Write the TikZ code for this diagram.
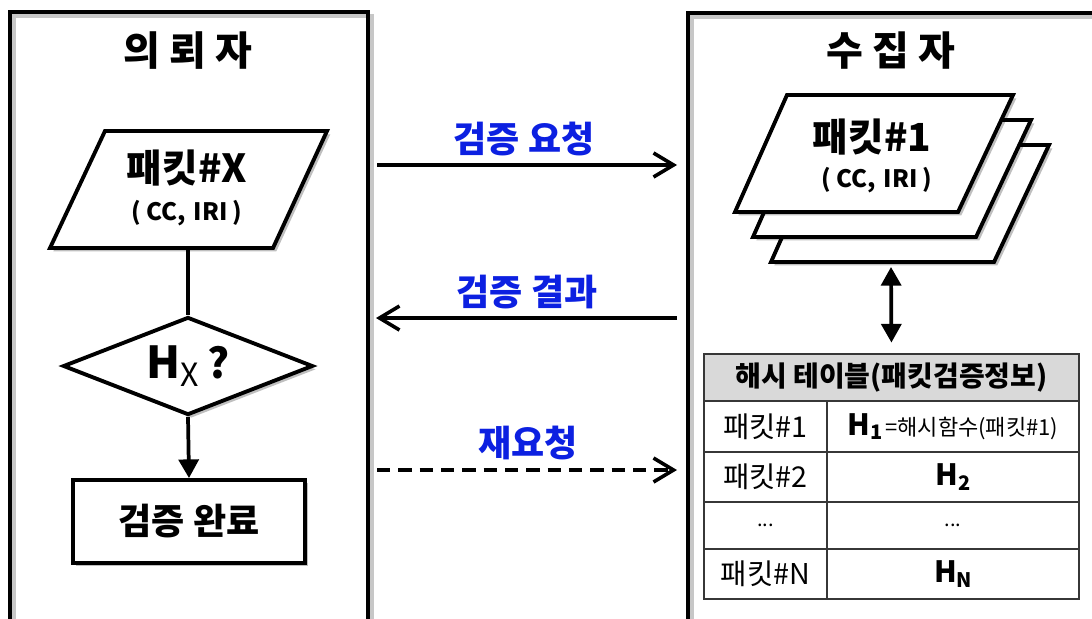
\documentclass[tikz,border=0pt]{standalone}
\usepackage{fontspec}
\setmainfont{Noto Sans CJK KR}
\usetikzlibrary{arrows.meta,shapes.geometric,shadows}
\definecolor{lblue}{RGB}{12,32,225}
\definecolor{hdrgray}{RGB}{217,217,217}
\definecolor{tline}{RGB}{55,55,55}
\newcommand\fsz[1]{\fontsize{#1}{#1}\selectfont}
\begin{document}
\begin{tikzpicture}[x=0.75pt,y=-0.75pt,
  panel/.style={draw=black, line width=3.4pt, rectangle, inner sep=0pt,
    preaction={draw=black!22, line width=3pt, transform canvas={xshift=2.8pt,yshift=-2.8pt}}},
  ttl/.style={font=\bfseries\fsz{30}, inner sep=0pt},
  shade/.style={drop shadow={shadow xshift=2.5pt, shadow yshift=-2.5pt, opacity=0.25, fill=black}},
  para/.style={draw=black, fill=white, line width=2.9pt, line join=miter, shade},
  flowbox/.style={draw=black, fill=white, line width=2.9pt, rectangle, inner sep=0pt, shade},
  decide/.style={draw=black, fill=white, line width=2.9pt, diamond, shape aspect=2.55, inner sep=0pt, shade},
  conn/.style={line width=2.8pt},
  msg/.style={line width=2.7pt, -{Straight Barb[length=15pt,width=18pt,line width=2.7pt]}},
  msglbl/.style={text=lblue, font=\bfseries\fsz{27}, inner sep=0pt},
  cell/.style={draw=tline, line width=1.2pt, rectangle, inner sep=0pt, font=\fsz{21.5}},
  hdr/.style={cell, fill=hdrgray, font=\bfseries\fsz{21}}
]
\clip (0,0) rectangle (1092,618);
\fill[white] (0,0) rectangle (1092,618);

% panels
\node[panel, minimum width=268.5pt, minimum height=516pt] (lp) at (189,356) {};
\node[panel, minimum width=324pt, minimum height=515.25pt] (rp) at (904,356.5) {};
\node[ttl] (lt) at (188,51) {의 뢰 자};
\node[ttl] (rt) at (891,51) {수 집 자};

% left flow
\path[para] (105,131) -- (327,131) -- (273,248) -- (50,248) -- cycle;
\node[font=\bfseries\fsz{29}, inner sep=0pt] (px) at (187,168) {패킷\#X};
\node[font=\bfseries\fsz{18}, inner sep=0pt] (pxs) at (187,213) {(\hspace{4pt}CC,\hspace{6pt}IRI\hspace{4pt})};
\coordinate (pxb) at (188,248);
\node[decide, minimum width=187.5pt, minimum height=73.5pt] (hx) at (188,366)
  {{\bfseries\fsz{33}H}\raisebox{-6pt}{\fsz{24}X}\hspace{6pt}{\bfseries\fsz{31}?}};
\node[flowbox, minimum width=174pt, minimum height=62.25pt, font=\bfseries\fsz{27}] (done) at (189,521.5) {검증 완료};
\draw[conn] (pxb) -- (hx.north);
\draw[conn, -{Triangle[length=14pt,width=15pt]}] (hx.south) -- (done.north);

% messages
\coordinate (a1s) at (377,165); \coordinate (a1e) at (677,165);
\coordinate (a2s) at (677,318); \coordinate (a2e) at (376,318);
\coordinate (a3s) at (377,470); \coordinate (a3e) at (677,470);
\node[msglbl] (l1) at (524,139) {검증 요청};
\node[msglbl] (l2) at (527,292) {검증 결과};
\node[msglbl] (l3) at (528,443) {재요청};
\draw[msg] (a1s) -- (a1e);
\draw[msg] (a2s) -- (a2e);
\draw[msg, dash pattern=on 10pt off 6pt] (a3s) -- (a3e);

% stacked packets
\path[para] (823,145) -- (1049,145) -- (994,262) -- (771,262) -- cycle;
\path[para] (805,120) -- (1031,120) -- (976,237) -- (753,237) -- cycle;
\path[para] (787,95) -- (1013,95) -- (958,212) -- (735,212) -- cycle;
\node[font=\bfseries\fsz{29}, inner sep=0pt] (p1) at (872,137) {패킷\#1};
\node[font=\bfseries\fsz{18}, inner sep=0pt] (p1s) at (877,180) {(\hspace{4pt}CC,\hspace{6pt}IRI\hspace{4pt})};
\coordinate (stackb) at (891,267);

% table
\node[hdr, minimum width=281.25pt, minimum height=35.25pt] (thead) at (891.5,377.5) {해시 테이블(패킷검증정보)};
\node[cell, minimum width=92.25pt, minimum height=38.25pt] (c11) at (765.5,426.5) {패킷\#1};
\node[cell, minimum width=189pt, minimum height=38.25pt] (c12) at (953,426.5)
  {{\bfseries\fsz{22}H\raisebox{-3.5pt}{\fsz{15}1}}\hspace{2pt}{\fsz{16.5}=해시함수(패킷\#1)}};
\node[cell, minimum width=92.25pt, minimum height=37.5pt] (c21) at (765.5,477) {패킷\#2};
\node[cell, minimum width=189pt, minimum height=37.5pt] (c22) at (953,477)
  {{\bfseries\fsz{22}H\raisebox{-3.5pt}{\fsz{15}2}}};
\node[cell, minimum width=92.25pt, minimum height=35.25pt, font=\fsz{15}] (c31) at (765.5,525.5) {...};
\node[cell, minimum width=189pt, minimum height=35.25pt, font=\fsz{15}] (c32) at (953,525.5) {...};
\node[cell, minimum width=92.25pt, minimum height=37.5pt] (c41) at (765.5,574) {패킷\#N};
\node[cell, minimum width=189pt, minimum height=37.5pt] (c42) at (953,574)
  {{\bfseries\fsz{22}H\raisebox{-3.5pt}{\fsz{15}N}}};

\draw[conn, {Triangle[length=14pt,width=15pt]}-{Triangle[length=14pt,width=15pt]}, shorten >=8pt] (stackb) -- (thead.north);
\end{tikzpicture}
\end{document}
